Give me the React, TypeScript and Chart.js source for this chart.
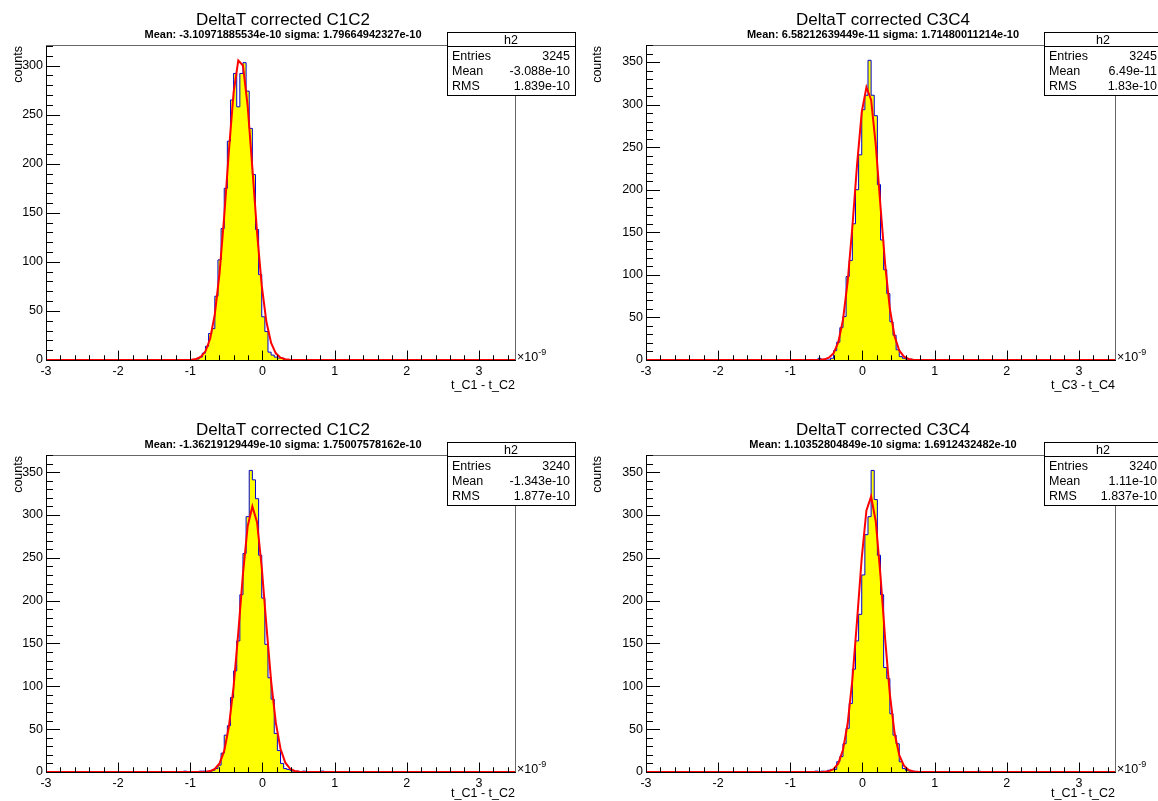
import React, { useEffect, useRef } from 'react';
import { Chart, registerables } from 'chart.js';

Chart.register(...registerables);

const FONT = "'Liberation Sans', Arial, Helvetica, sans-serif";

// ---------- axis data (x in units of 1e-9 s) ----------
const X_MIN = -3;
const X_MAX = 3.5;
const N_BINS = 150;
const xTickValues = [-3, -2, -1, 0, 1, 2, 3];
const xTickLabels = ['-3', '-2', '-1', '0', '1', '2', '3'];
const xExponentLabel = '\u00d710';
const xExponentSup = '-9';
const yTickStep = 50;
const yAxisTitle = 'counts';

// ---------- panel texts ----------
const panelTitles = ['DeltaT corrected C1C2', 'DeltaT corrected C3C4', 'DeltaT corrected C1C2', 'DeltaT corrected C3C4'];
const panelSubtitles = [
  'Mean: -3.10971885534e-10 sigma: 1.79664942327e-10',
  'Mean: 6.58212639449e-11 sigma: 1.71480011214e-10',
  'Mean: -1.36219129449e-10 sigma: 1.75007578162e-10',
  'Mean: 1.10352804849e-10 sigma: 1.6912432482e-10',
];
const xAxisTitles = ['t_C1 - t_C2', 't_C3 - t_C4', 't_C1 - t_C2', 't_C1 - t_C2'];
const statsName = 'h2';
const statsEntries = ['3245', '3245', '3240', '3240'];
const statsMean = ['-3.088e-10', '6.49e-11', '-1.343e-10', '1.11e-10'];
const statsRMS = ['1.839e-10', '1.83e-10', '1.877e-10', '1.837e-10'];
const yMaxValues = [321, 370, 370, 370];

// ---------- fit parameters (gaus), x in 1e-9 ----------
const fitMeans = [-0.310971885534, 0.0658212639449, -0.136219129449, 0.110352804849];
const fitSigmas = [0.179664942327, 0.171480011214, 0.175007578162, 0.16912432482];
const fitAmplitudes = [308, 321, 310, 322];
const FIT_NPX = 100;

// ---------- histogram bin contents (150 bins from -3 to 3.5) ----------
const firstBins = [48, 55, 44, 54];
const countsTopLeft = [
  1, 3, 7, 14, 27, 32, 65, 102, 134, 175, 223, 265, 292, 258, 292, 303, 274, 236, 189, 133, 87, 44, 29, 8, 5, 3, 2, 2,
];
const countsTopRight = [
  2, 0, 0, 0, 2, 11, 21, 38, 51, 98, 117, 160, 200, 241, 294, 311, 352, 311, 287, 206, 141, 106, 78, 45, 29, 12, 4, 2, 1, 1,
];
const countsBottomLeft = [
  1, 0, 0, 0, 0, 1, 1, 0, 0, 2, 4, 8, 22, 43, 54, 87, 118, 153, 207, 255, 298, 352, 341, 319, 253, 203, 149, 110, 85, 45, 25,
  10, 4, 3, 2, 0, 1, 0, 1, 0, 0, 0, 0, 0, 1,
];
const countsBottomRight = [
  1, 0, 1, 0, 2, 3, 3, 12, 18, 33, 51, 80, 120, 153, 184, 230, 277, 298, 352, 318, 253, 207, 122, 109, 68, 43, 33, 12, 4, 2,
  1, 1, 0, 0, 0, 0, 0, 0, 0, 0, 0, 0, 0, 0, 0, 0, 0, 0, 0, 0, 0, 0, 1,
];
const panelCounts = [countsTopLeft, countsTopRight, countsBottomLeft, countsBottomRight];

// ---------- layout ----------
type Layout = {
  left: number; top: number; width: number; height: number;
  fl: number; fr: number; ft: number; fb: number;
  boxL: number; boxW: number; xTitleDy: number;
};
const layouts: Layout[] = [
  { left: 0, top: 0, width: 579, height: 400, fl: 46, fr: 515, ft: 45, fb: 360, boxL: 447, boxW: 128, xTitleDy: 29 },
  { left: 579, top: 0, width: 579, height: 400, fl: 67, fr: 536, ft: 45, fb: 360, boxL: 465, boxW: 118, xTitleDy: 29 },
  { left: 0, top: 410, width: 579, height: 391, fl: 46, fr: 515, ft: 45, fb: 362, boxL: 447, boxW: 128, xTitleDy: 25 },
  { left: 579, top: 410, width: 579, height: 391, fl: 67, fr: 536, ft: 45, fb: 362, boxL: 465, boxW: 118, xTitleDy: 25 },
];

function histPoints(idx: number) {
  const bw = (X_MAX - X_MIN) / N_BINS;
  const full = new Array(N_BINS).fill(0);
  panelCounts[idx].forEach((c, k) => {
    full[firstBins[idx] + k] = c;
  });
  const pts = full.map((c, i) => ({ x: X_MIN + i * bw, y: c }));
  pts.push({ x: X_MAX, y: full[N_BINS - 1] });
  return pts;
}

function fitPoints(idx: number) {
  const pts: { x: number; y: number }[] = [];
  const m = fitMeans[idx];
  const s = fitSigmas[idx];
  const a = fitAmplitudes[idx];
  for (let k = 0; k <= FIT_NPX; k++) {
    const x = X_MIN + (k * (X_MAX - X_MIN)) / FIT_NPX;
    pts.push({ x, y: a * Math.exp(-0.5 * ((x - m) / s) * ((x - m) / s)) });
  }
  return pts;
}

function decorPlugin(idx: number) {
  const p = layouts[idx];
  return {
    id: 'rootDecor' + idx,
    afterDraw(chart: any) {
      const ctx: CanvasRenderingContext2D = chart.ctx;
      const a = chart.chartArea;
      const xs = chart.scales.x;
      const ys = chart.scales.y;
      const yMax = yMaxValues[idx];
      ctx.save();
      // frame top and right
      ctx.strokeStyle = '#666';
      ctx.lineWidth = 1;
      ctx.beginPath();
      ctx.moveTo(a.left, a.top + 0.5);
      ctx.lineTo(a.right + 0.5, a.top + 0.5);
      ctx.lineTo(a.right + 0.5, a.bottom);
      ctx.stroke();
      // ticks
      ctx.strokeStyle = '#000';
      ctx.beginPath();
      const xMajorLen = 0.03 * (a.bottom - a.top);
      const yMajorLen = 0.03 * (a.right - a.left);
      for (let k = 0; k <= 32; k++) {
        const v = X_MIN + k * 0.2;
        const px = Math.round(xs.getPixelForValue(v)) + 0.5;
        const major = Math.abs(v - Math.round(v)) < 1e-6;
        const len = major ? xMajorLen : xMajorLen / 2;
        ctx.moveTo(px, a.bottom);
        ctx.lineTo(px, a.bottom - len);
      }
      for (let v = 0; v <= yMax; v += 10) {
        const py = Math.round(ys.getPixelForValue(v)) + 0.5;
        const major = v % yTickStep === 0;
        const len = major ? yMajorLen : yMajorLen / 2;
        ctx.moveTo(a.left, py);
        ctx.lineTo(a.left + len, py);
      }
      ctx.stroke();

      const cx = (a.left + a.right) / 2 + 2.5;
      ctx.fillStyle = '#000';
      ctx.textAlign = 'center';
      ctx.textBaseline = 'alphabetic';
      ctx.font = `17px ${FONT}`;
      ctx.fillText(panelTitles[idx], cx, 25);
      ctx.font = `bold 11px ${FONT}`;
      ctx.fillText(panelSubtitles[idx], cx, 38);

      // axis titles
      ctx.font = `12.5px ${FONT}`;
      ctx.textAlign = 'right';
      ctx.fillText(xAxisTitles[idx], a.right, a.bottom + p.xTitleDy);
      ctx.textAlign = 'left';
      ctx.fillText(xExponentLabel, a.right + 2, a.bottom + 1);
      const w = ctx.measureText(xExponentLabel).width;
      ctx.font = `9px ${FONT}`;
      ctx.fillText(xExponentSup, a.right + 2 + w, a.bottom - 5);

      ctx.save();
      ctx.font = `12.5px ${FONT}`;
      ctx.translate(21.5, a.top + 1);
      ctx.rotate(-Math.PI / 2);
      ctx.textAlign = 'right';
      ctx.fillText(yAxisTitle, 0, 0);
      ctx.restore();

      // stats box
      const bl = p.boxL;
      const bt = 32;
      const bw = p.boxW;
      const bh = 63;
      ctx.fillStyle = '#fff';
      ctx.fillRect(bl, bt, bw, bh);
      ctx.strokeStyle = '#000';
      ctx.lineWidth = 1;
      ctx.strokeRect(bl + 0.5, bt + 0.5, bw, bh);
      ctx.beginPath();
      ctx.moveTo(bl, bt + 14.5);
      ctx.lineTo(bl + bw, bt + 14.5);
      ctx.stroke();
      ctx.fillStyle = '#000';
      ctx.font = `12.5px ${FONT}`;
      ctx.textAlign = 'center';
      ctx.fillText(statsName, bl + bw / 2, bt + 12);
      const rows = [
        ['Entries', statsEntries[idx]],
        ['Mean', statsMean[idx]],
        ['RMS', statsRMS[idx]],
      ];
      rows.forEach((r, k) => {
        const y = bt + 28 + k * 15;
        ctx.textAlign = 'left';
        ctx.fillText(r[0], bl + 5, y);
        ctx.textAlign = 'right';
        ctx.fillText(r[1], bl + bw - 5, y);
      });
      ctx.restore();
    },
  };
}

function HistPanel({ idx }: { idx: number }) {
  const ref = useRef<HTMLCanvasElement>(null);
  const p = layouts[idx];
  useEffect(() => {
    const yMax = yMaxValues[idx];
    const chart = new Chart(ref.current as HTMLCanvasElement, {
      type: 'line',
      data: {
        datasets: [
          {
            label: 'fit',
            data: fitPoints(idx),
            borderColor: '#ff0000',
            borderWidth: 2,
            pointRadius: 0,
            fill: false,
            tension: 0,
            order: 0,
          },
          {
            label: 'h2',
            data: histPoints(idx),
            borderColor: '#0000d0',
            borderWidth: 1,
            backgroundColor: '#ffff00',
            fill: 'origin',
            stepped: 'before',
            pointRadius: 0,
            tension: 0,
            order: 1,
          },
        ],
      } as any,
      options: {
        animation: false,
        responsive: false,
        maintainAspectRatio: false,
        devicePixelRatio: 1,
        events: [],
        layout: { padding: { left: 0, top: p.ft, right: p.width - p.fr, bottom: 0 } },
        plugins: { legend: { display: false }, tooltip: { enabled: false }, title: { display: false } },
        scales: {
          x: {
            type: 'linear',
            min: X_MIN,
            max: X_MAX,
            grid: { display: false, drawTicks: false },
            border: { display: true, color: '#000', width: 1 },
            ticks: {
              color: '#000',
              font: { family: FONT, size: 12.5 },
              padding: 4,
              maxRotation: 0,
              autoSkip: false,
              callback: (v: any) => {
                const i = xTickValues.indexOf(Number(v));
                return i >= 0 ? xTickLabels[i] : '';
              },
            },
            afterBuildTicks: (s: any) => {
              s.ticks = xTickValues.map((v) => ({ value: v }));
            },
            afterFit: (s: any) => {
              s.height = p.height - p.fb;
              s.paddingLeft = 0;
              s.paddingRight = 0;
            },
          },
          y: {
            type: 'linear',
            min: 0,
            max: yMax,
            grid: { display: false, drawTicks: false },
            border: { display: true, color: '#000', width: 1 },
            ticks: {
              color: '#000',
              font: { family: FONT, size: 12.5 },
              padding: 3,
              autoSkip: false,
            },
            afterBuildTicks: (s: any) => {
              const t: { value: number }[] = [];
              for (let v = 0; v <= yMax; v += yTickStep) t.push({ value: v });
              s.ticks = t;
            },
            afterFit: (s: any) => {
              s.width = p.fl;
              s.paddingTop = 0;
              s.paddingBottom = 0;
            },
          },
        },
      } as any,
      plugins: [decorPlugin(idx)],
    });
    return () => chart.destroy();
  }, [idx]);
  return (
    <div style={{ position: 'absolute', left: p.left, top: p.top, width: p.width, height: p.height, overflow: 'hidden' }}>
      <canvas ref={ref} width={p.width} height={p.height} style={{ width: p.width, height: p.height, display: 'block' }} />
    </div>
  );
}

export default function App() {
  useEffect(() => {
    document.body.style.margin = '0';
  }, []);
  return (
    <div style={{ position: 'absolute', left: 0, top: 0, width: 1158, height: 801, background: '#fff', overflow: 'hidden' }}>
      {[0, 1, 2, 3].map((i) => (
        <HistPanel key={i} idx={i} />
      ))}
    </div>
  );
}
